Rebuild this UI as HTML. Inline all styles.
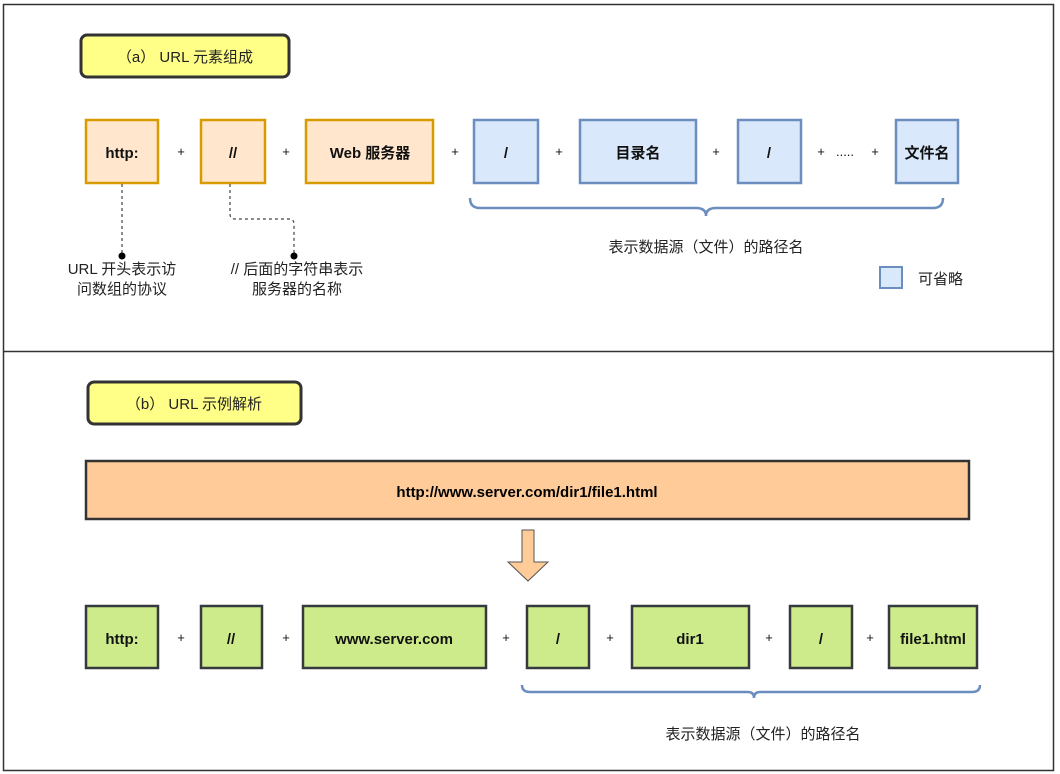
<!DOCTYPE html>
<html><head><meta charset="utf-8"><style>
html,body{margin:0;padding:0;background:#fff;}
svg{display:block;font-family:"Liberation Sans","Noto Sans CJK SC",sans-serif;}
.b{font-weight:bold;font-size:15px;}
.p{font-size:13px;}
.t{font-size:15px;fill:#222;}
</style></head><body>
<svg width="1060" height="774" viewBox="0 0 1060 774" xmlns="http://www.w3.org/2000/svg">
<rect x="0" y="0" width="1060" height="774" fill="#fff"/>
<rect x="3.5" y="4.5" width="1050" height="766" fill="none" stroke="#333" stroke-width="1.5"/>
<line x1="3" y1="351.5" x2="1054" y2="351.5" stroke="#333" stroke-width="1.5"/>

<!-- title a -->
<rect x="81" y="35" width="208" height="42" rx="6" fill="#ffff88" stroke="#333" stroke-width="3"/>
<text x="185" y="62" text-anchor="middle" class="t">（a） URL 元素组成</text>

<!-- row1 orange -->
<g fill="#ffe6cc" stroke="#d79b00" stroke-width="2.5">
<rect x="86" y="120" width="72" height="63"/>
<rect x="201" y="120" width="64" height="63"/>
<rect x="306" y="120" width="127" height="63"/>
</g>
<g fill="#dae8fc" stroke="#6c8ebf" stroke-width="2.5">
<rect x="474" y="120" width="64" height="63"/>
<rect x="580" y="120" width="116" height="63"/>
<rect x="738" y="120" width="63" height="63"/>
<rect x="896" y="120" width="62" height="63"/>
<rect x="880" y="267" width="22" height="21" stroke-width="2"/>
</g>
<g class="b" text-anchor="middle" fill="#111">
<text x="122" y="158">http:</text>
<text x="233" y="158">//</text>
<text x="370" y="158">Web 服务器</text>
<text x="506" y="158">/</text>
<text x="638" y="158">目录名</text>
<text x="769" y="158">/</text>
<text x="927" y="158">文件名</text>
</g>
<g class="p" text-anchor="middle" fill="#111">
<text x="181" y="156">+</text>
<text x="286" y="156">+</text>
<text x="455" y="156">+</text>
<text x="559" y="156">+</text>
<text x="716" y="156">+</text>
<text x="821" y="156">+</text>
<text x="845" y="156">.....</text>
<text x="875" y="156">+</text>
</g>
<path d="M470 198 q0 10 10 10 L696 208 q10 0 10 8 q0 -8 10 -8 L933 208 q10 0 10 -10" fill="none" stroke="#6c8ebf" stroke-width="2.5"/>
<text x="706" y="252" text-anchor="middle" class="t">表示数据源（文件）的路径名</text>
<text x="918" y="284" class="t">可省略</text>

<!-- dashed -->
<g fill="none" stroke="#444" stroke-width="1.2" stroke-dasharray="3,3">
<path d="M122 184 V256"/>
<path d="M230 184 V214 q0 5 5 5 H289 q5 0 5 5 V256"/>
</g>
<circle cx="122" cy="256" r="3.5" fill="#000"/>
<circle cx="294" cy="256" r="3.5" fill="#000"/>
<g class="t" text-anchor="middle">
<text x="122" y="274">URL 开头表示访</text>
<text x="122" y="294">问数组的协议</text>
<text x="297" y="274">// 后面的字符串表示</text>
<text x="297" y="294">服务器的名称</text>
</g>

<!-- title b -->
<rect x="88" y="382" width="213" height="42" rx="6" fill="#ffff88" stroke="#333" stroke-width="3"/>
<text x="194" y="409" text-anchor="middle" class="t">（b） URL 示例解析</text>

<rect x="86" y="461" width="883" height="58" fill="#ffcc99" stroke="#333" stroke-width="2.5"/>
<text x="527" y="497" text-anchor="middle" class="b">http://www.server.com/dir1/file1.html</text>

<path d="M522 530 H534 V562 H548 L528 581 L508 562 H522 Z" fill="#ffcc99" stroke="#555" stroke-width="1"/>

<g fill="#cdeb8b" stroke="#36393d" stroke-width="2.5">
<rect x="86" y="606" width="72" height="62"/>
<rect x="201" y="606" width="61" height="62"/>
<rect x="303" y="606" width="183" height="62"/>
<rect x="527" y="606" width="62" height="62"/>
<rect x="632" y="606" width="117" height="62"/>
<rect x="790" y="606" width="62" height="62"/>
<rect x="889" y="606" width="88" height="62"/>
</g>
<g class="b" text-anchor="middle" fill="#111">
<text x="122" y="644">http:</text>
<text x="231" y="644">//</text>
<text x="394" y="644">www.server.com</text>
<text x="558" y="644">/</text>
<text x="690" y="644">dir1</text>
<text x="821" y="644">/</text>
<text x="933" y="644">file1.html</text>
</g>
<g class="p" text-anchor="middle" fill="#111">
<text x="181" y="642">+</text>
<text x="286" y="642">+</text>
<text x="506" y="642">+</text>
<text x="610" y="642">+</text>
<text x="769" y="642">+</text>
<text x="870" y="642">+</text>
</g>
<path d="M522 685 q0 7 8 7 L748 692 q6 0 6 6 q0 -6 6 -6 L972 692 q8 0 8 -7" fill="none" stroke="#6c8ebf" stroke-width="2.5"/>
<text x="763" y="739" text-anchor="middle" class="t">表示数据源（文件）的路径名</text>
</svg>
</body></html>
